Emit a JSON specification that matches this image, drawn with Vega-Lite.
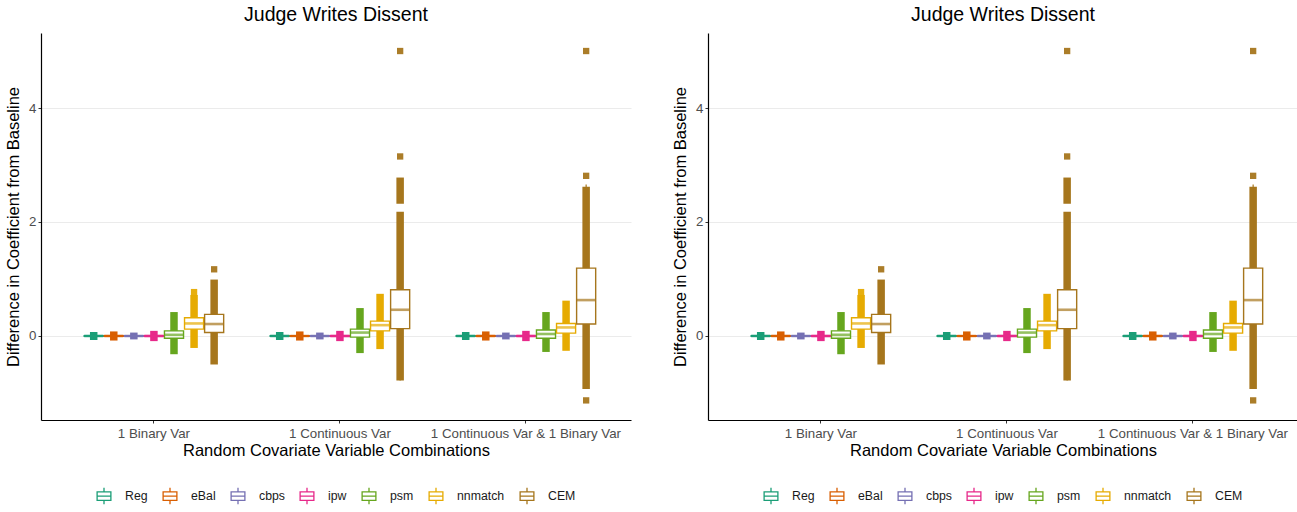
{
  "$schema": "https://vega.github.io/schema/vega-lite/v6.json",
  "padding": {"left": 5, "top": 4, "right": 0, "bottom": 0},
  "background": "white",
  "datasets": {
    "boxes": [
      {"cat": "1 Binary Var", "method": "Reg", "wlo": -0.03, "q1": -0.006, "med": 0, "q3": 0.006, "whi": 0.03},
      {"cat": "1 Binary Var", "method": "eBal", "wlo": -0.03, "q1": -0.006, "med": 0, "q3": 0.006, "whi": 0.03},
      {"cat": "1 Binary Var", "method": "cbps", "wlo": -0.02, "q1": -0.004, "med": 0, "q3": 0.004, "whi": 0.02},
      {"cat": "1 Binary Var", "method": "ipw", "wlo": -0.03, "q1": -0.007, "med": 0, "q3": 0.007, "whi": 0.03},
      {"cat": "1 Binary Var", "method": "psm", "wlo": -0.23, "q1": -0.04, "med": 0.02, "q3": 0.09, "whi": 0.28},
      {"cat": "1 Binary Var", "method": "nnmatch", "wlo": -0.18, "q1": 0.12, "med": 0.22, "q3": 0.32, "whi": 0.62},
      {"cat": "1 Binary Var", "method": "CEM", "wlo": -0.42, "q1": 0.06, "med": 0.21, "q3": 0.38, "whi": 0.86},
      {"cat": "1 Continuous Var", "method": "Reg", "wlo": -0.03, "q1": -0.006, "med": 0, "q3": 0.006, "whi": 0.03},
      {"cat": "1 Continuous Var", "method": "eBal", "wlo": -0.03, "q1": -0.006, "med": 0, "q3": 0.006, "whi": 0.03},
      {"cat": "1 Continuous Var", "method": "cbps", "wlo": -0.02, "q1": -0.004, "med": 0, "q3": 0.004, "whi": 0.02},
      {"cat": "1 Continuous Var", "method": "ipw", "wlo": -0.03, "q1": -0.007, "med": 0, "q3": 0.007, "whi": 0.03},
      {"cat": "1 Continuous Var", "method": "psm", "wlo": -0.23, "q1": -0.02, "med": 0.06, "q3": 0.12, "whi": 0.33},
      {"cat": "1 Continuous Var", "method": "nnmatch", "wlo": -0.17, "q1": 0.09, "med": 0.19, "q3": 0.26, "whi": 0.51},
      {"cat": "1 Continuous Var", "method": "CEM", "wlo": -0.78, "q1": 0.13, "med": 0.46, "q3": 0.81, "whi": 1.83},
      {"cat": "1 Continuous Var & 1 Binary Var", "method": "Reg", "wlo": -0.03, "q1": -0.006, "med": 0, "q3": 0.006, "whi": 0.03},
      {"cat": "1 Continuous Var & 1 Binary Var", "method": "eBal", "wlo": -0.03, "q1": -0.006, "med": 0, "q3": 0.006, "whi": 0.03},
      {"cat": "1 Continuous Var & 1 Binary Var", "method": "cbps", "wlo": -0.02, "q1": -0.004, "med": 0, "q3": 0.004, "whi": 0.02},
      {"cat": "1 Continuous Var & 1 Binary Var", "method": "ipw", "wlo": -0.03, "q1": -0.007, "med": 0, "q3": 0.007, "whi": 0.03},
      {"cat": "1 Continuous Var & 1 Binary Var", "method": "psm", "wlo": -0.25, "q1": -0.04, "med": 0.035, "q3": 0.105, "whi": 0.32},
      {"cat": "1 Continuous Var & 1 Binary Var", "method": "nnmatch", "wlo": -0.2, "q1": 0.05, "med": 0.15, "q3": 0.22, "whi": 0.47},
      {"cat": "1 Continuous Var & 1 Binary Var", "method": "CEM", "wlo": -0.93, "q1": 0.21, "med": 0.63, "q3": 1.19, "whi": 2.66}
    ],
    "segs": [
      {"cat": "1 Binary Var", "method": "Reg", "lo": -0.07, "hi": 0.07},
      {"cat": "1 Binary Var", "method": "eBal", "lo": -0.08, "hi": 0.08},
      {"cat": "1 Binary Var", "method": "cbps", "lo": -0.06, "hi": 0.06},
      {"cat": "1 Binary Var", "method": "ipw", "lo": -0.09, "hi": 0.09},
      {"cat": "1 Binary Var", "method": "psm", "lo": -0.32, "hi": 0.42},
      {"cat": "1 Binary Var", "method": "nnmatch", "lo": -0.21, "hi": 0.72},
      {"cat": "1 Binary Var", "method": "CEM", "lo": -0.5, "hi": 0.99},
      {"cat": "1 Continuous Var", "method": "Reg", "lo": -0.07, "hi": 0.07},
      {"cat": "1 Continuous Var", "method": "eBal", "lo": -0.08, "hi": 0.08},
      {"cat": "1 Continuous Var", "method": "cbps", "lo": -0.06, "hi": 0.06},
      {"cat": "1 Continuous Var", "method": "ipw", "lo": -0.09, "hi": 0.09},
      {"cat": "1 Continuous Var", "method": "psm", "lo": -0.3, "hi": 0.49},
      {"cat": "1 Continuous Var", "method": "nnmatch", "lo": -0.23, "hi": 0.74},
      {"cat": "1 Continuous Var", "method": "CEM", "lo": -0.78, "hi": 2.18},
      {"cat": "1 Continuous Var", "method": "CEM", "lo": 2.32, "hi": 2.78},
      {"cat": "1 Continuous Var & 1 Binary Var", "method": "Reg", "lo": -0.07, "hi": 0.07},
      {"cat": "1 Continuous Var & 1 Binary Var", "method": "eBal", "lo": -0.08, "hi": 0.08},
      {"cat": "1 Continuous Var & 1 Binary Var", "method": "cbps", "lo": -0.06, "hi": 0.06},
      {"cat": "1 Continuous Var & 1 Binary Var", "method": "ipw", "lo": -0.09, "hi": 0.09},
      {"cat": "1 Continuous Var & 1 Binary Var", "method": "psm", "lo": -0.28, "hi": 0.42},
      {"cat": "1 Continuous Var & 1 Binary Var", "method": "nnmatch", "lo": -0.26, "hi": 0.62},
      {"cat": "1 Continuous Var & 1 Binary Var", "method": "CEM", "lo": -0.93, "hi": 2.62}
    ],
    "pts": [
      {"cat": "1 Binary Var", "method": "nnmatch", "value": 0.77},
      {"cat": "1 Binary Var", "method": "CEM", "value": 1.17},
      {"cat": "1 Continuous Var", "method": "CEM", "value": 3.15},
      {"cat": "1 Continuous Var", "method": "CEM", "value": 5.0},
      {"cat": "1 Continuous Var & 1 Binary Var", "method": "CEM", "value": 2.81},
      {"cat": "1 Continuous Var & 1 Binary Var", "method": "CEM", "value": -1.13},
      {"cat": "1 Continuous Var & 1 Binary Var", "method": "CEM", "value": 5.0}
    ]
  },
  "config": {
    "font": "Liberation Sans",
    "view": {"stroke": null},
    "axis": {"domainColor": "black", "domainWidth": 1.2, "tickColor": "#333333", "tickSize": 3, "labelColor": "#4d4d4d", "labelFontSize": 13.3, "titleFontSize": 16.5, "titleFontWeight": "normal", "titleColor": "black", "labelPadding": 2},
    "axisX": {"grid": false, "labelAngle": 0, "titlePadding": 3, "labelPadding": 3, "labelLimit": 0},
    "axisY": {"grid": true, "gridColor": "#ebebeb", "gridWidth": 1, "titlePadding": 7, "format": "d"},
    "title": {"fontSize": 19.5, "fontWeight": "normal", "color": "black", "offset": 8, "anchor": "middle", "frame": "group"},
    "concat": {"spacing": 41}
  },
  "resolve": {"legend": {"stroke": "independent"}},
  "hconcat": [
    {
      "width": 590, "height": 387,
      "title": "Judge Writes Dissent",
      "layer": [
        {"mark": {"type": "rule", "strokeDash": [6, 4], "color": "#a8a8a8", "strokeWidth": 1.1},
         "encoding": {"y": {"datum": 0, "type": "quantitative", "scale": {"domain": [-1.474, 5.316], "nice": false, "zero": false}, "axis": {"values": [0, 2, 4], "title": "Difference in Coefficient from Baseline"}, "title": "Difference in Coefficient from Baseline"}}},
        {"data": {"name": "segs"},
         "mark": {"type": "rule", "strokeWidth": 7.5, "strokeCap": "butt"},
         "encoding": {
           "x": {"field": "cat", "type": "nominal", "sort": ["1 Binary Var", "1 Continuous Var", "1 Continuous Var & 1 Binary Var"], "scale": {"domain": ["1 Binary Var", "1 Continuous Var", "1 Continuous Var & 1 Binary Var"], "paddingInner": 0.25, "paddingOuter": 0.211, "align": 0.55}, "axis": {"title": "Random Covariate Variable Combinations"}},
           "xOffset": {"field": "method", "type": "nominal", "scale": {"domain": ["Reg", "eBal", "cbps", "ipw", "psm", "nnmatch", "CEM"], "paddingInner": 0.05}},
           "y": {"field": "lo", "type": "quantitative", "title": "Difference in Coefficient from Baseline"},
           "y2": {"field": "hi"},
           "color": {"field": "method", "type": "nominal", "scale": {"domain": ["Reg", "eBal", "cbps", "ipw", "psm", "nnmatch", "CEM"], "range": ["#1B9E77", "#D95F02", "#7570B3", "#E7298A", "#66A61E", "#E6AB02", "#A6761D"]}, "legend": null}
         }},
        {"data": {"name": "boxes"},
         "mark": {"type": "rule", "strokeWidth": 1.2},
         "encoding": {
           "x": {"field": "cat", "type": "nominal"},
           "xOffset": {"field": "method", "type": "nominal"},
           "y": {"field": "wlo", "type": "quantitative", "title": "Difference in Coefficient from Baseline"},
           "y2": {"field": "whi"},
           "color": {"field": "method", "type": "nominal", "legend": null}
         }},
        {"data": {"name": "pts"},
         "mark": {"type": "point", "shape": "square", "filled": true, "size": 40, "opacity": 0.95},
         "encoding": {
           "x": {"field": "cat", "type": "nominal"},
           "xOffset": {"field": "method", "type": "nominal"},
           "y": {"field": "value", "type": "quantitative", "title": "Difference in Coefficient from Baseline"},
           "color": {"field": "method", "type": "nominal", "legend": null}
         }},
        {"data": {"name": "boxes"},
         "mark": {"type": "bar", "fill": "white", "strokeWidth": 1.4},
         "encoding": {
           "x": {"field": "cat", "type": "nominal"},
           "xOffset": {"field": "method", "type": "nominal"},
           "y": {"field": "q1", "type": "quantitative", "title": "Difference in Coefficient from Baseline"},
           "y2": {"field": "q3"},
           "stroke": {"field": "method", "type": "nominal", "scale": {"domain": ["Reg", "eBal", "cbps", "ipw", "psm", "nnmatch", "CEM"], "range": ["#1B9E77", "#D95F02", "#7570B3", "#E7298A", "#66A61E", "#E6AB02", "#A6761D"]},
             "legend": {"orient": "none", "legendX": 55, "legendY": 455, "direction": "horizontal", "title": null, "symbolType": "M-1,-0.62H1V0.62H-1Z M-1,0H1 M0,-0.62V-1.2 M0,0.62V1.2", "symbolSize": 190, "symbolFillColor": "white", "symbolStrokeWidth": 1.3, "labelFontSize": 12.3, "labelColor": "#1a1a1a", "columnPadding": 12, "labelOffset": 13}}
         }},
        {"data": {"name": "boxes"},
         "mark": {"type": "tick", "thickness": 2.6, "size": 19},
         "encoding": {
           "x": {"field": "cat", "type": "nominal"},
           "xOffset": {"field": "method", "type": "nominal"},
           "y": {"field": "med", "type": "quantitative", "title": "Difference in Coefficient from Baseline"},
           "color": {"field": "method", "type": "nominal", "legend": null}
         }}
      ]
    },
    {
      "width": 590, "height": 387,
      "title": "Judge Writes Dissent",
      "layer": [
        {"mark": {"type": "rule", "strokeDash": [6, 4], "color": "#a8a8a8", "strokeWidth": 1.1},
         "encoding": {"y": {"datum": 0, "type": "quantitative", "scale": {"domain": [-1.474, 5.316], "nice": false, "zero": false}, "axis": {"values": [0, 2, 4], "title": "Difference in Coefficient from Baseline"}, "title": "Difference in Coefficient from Baseline"}}},
        {"data": {"name": "segs"},
         "mark": {"type": "rule", "strokeWidth": 7.5, "strokeCap": "butt"},
         "encoding": {
           "x": {"field": "cat", "type": "nominal", "sort": ["1 Binary Var", "1 Continuous Var", "1 Continuous Var & 1 Binary Var"], "scale": {"domain": ["1 Binary Var", "1 Continuous Var", "1 Continuous Var & 1 Binary Var"], "paddingInner": 0.25, "paddingOuter": 0.211, "align": 0.55}, "axis": {"title": "Random Covariate Variable Combinations"}},
           "xOffset": {"field": "method", "type": "nominal", "scale": {"domain": ["Reg", "eBal", "cbps", "ipw", "psm", "nnmatch", "CEM"], "paddingInner": 0.05}},
           "y": {"field": "lo", "type": "quantitative", "title": "Difference in Coefficient from Baseline"},
           "y2": {"field": "hi"},
           "color": {"field": "method", "type": "nominal", "scale": {"domain": ["Reg", "eBal", "cbps", "ipw", "psm", "nnmatch", "CEM"], "range": ["#1B9E77", "#D95F02", "#7570B3", "#E7298A", "#66A61E", "#E6AB02", "#A6761D"]}, "legend": null}
         }},
        {"data": {"name": "boxes"},
         "mark": {"type": "rule", "strokeWidth": 1.2},
         "encoding": {
           "x": {"field": "cat", "type": "nominal"},
           "xOffset": {"field": "method", "type": "nominal"},
           "y": {"field": "wlo", "type": "quantitative", "title": "Difference in Coefficient from Baseline"},
           "y2": {"field": "whi"},
           "color": {"field": "method", "type": "nominal", "legend": null}
         }},
        {"data": {"name": "pts"},
         "mark": {"type": "point", "shape": "square", "filled": true, "size": 40, "opacity": 0.95},
         "encoding": {
           "x": {"field": "cat", "type": "nominal"},
           "xOffset": {"field": "method", "type": "nominal"},
           "y": {"field": "value", "type": "quantitative", "title": "Difference in Coefficient from Baseline"},
           "color": {"field": "method", "type": "nominal", "legend": null}
         }},
        {"data": {"name": "boxes"},
         "mark": {"type": "bar", "fill": "white", "strokeWidth": 1.4},
         "encoding": {
           "x": {"field": "cat", "type": "nominal"},
           "xOffset": {"field": "method", "type": "nominal"},
           "y": {"field": "q1", "type": "quantitative", "title": "Difference in Coefficient from Baseline"},
           "y2": {"field": "q3"},
           "stroke": {"field": "method", "type": "nominal", "scale": {"domain": ["Reg", "eBal", "cbps", "ipw", "psm", "nnmatch", "CEM"], "range": ["#1B9E77", "#D95F02", "#7570B3", "#E7298A", "#66A61E", "#E6AB02", "#A6761D"]},
             "legend": {"orient": "none", "legendX": 55, "legendY": 455, "direction": "horizontal", "title": null, "symbolType": "M-1,-0.62H1V0.62H-1Z M-1,0H1 M0,-0.62V-1.2 M0,0.62V1.2", "symbolSize": 190, "symbolFillColor": "white", "symbolStrokeWidth": 1.3, "labelFontSize": 12.3, "labelColor": "#1a1a1a", "columnPadding": 12, "labelOffset": 13}}
         }},
        {"data": {"name": "boxes"},
         "mark": {"type": "tick", "thickness": 2.6, "size": 19},
         "encoding": {
           "x": {"field": "cat", "type": "nominal"},
           "xOffset": {"field": "method", "type": "nominal"},
           "y": {"field": "med", "type": "quantitative", "title": "Difference in Coefficient from Baseline"},
           "color": {"field": "method", "type": "nominal", "legend": null}
         }}
      ]
    }
  ]
}
